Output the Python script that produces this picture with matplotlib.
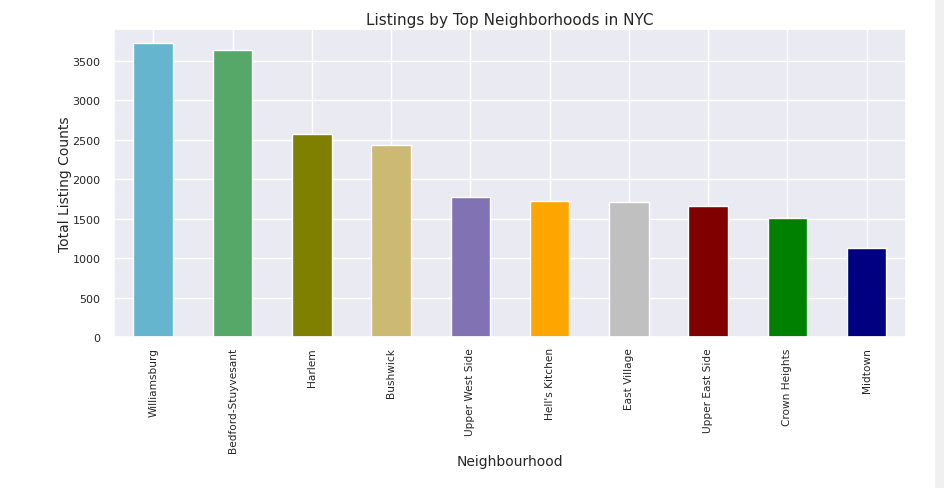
import matplotlib
matplotlib.use("Agg")
import matplotlib.pyplot as plt
import seaborn as sns
from matplotlib.patches import Rectangle

# Listing counts for the top neighbourhoods
neighbourhoods = [
    "Williamsburg", "Bedford-Stuyvesant", "Harlem", "Bushwick",
    "Upper West Side", "Hell's Kitchen", "East Village", "Upper East Side",
    "Crown Heights", "Midtown",
]
listing_counts = [3725, 3632, 2570, 2430, 1777, 1722, 1710, 1660, 1517, 1132]
bar_colors = ["c", "g", "olive", "y", "m", "orange", "silver", "maroon", "green", "navy"]

sns.set_theme(style="darkgrid", color_codes=True)
plt.rcParams["font.family"] = ["DejaVu Sans"]

fig = plt.figure(figsize=(9.44, 4.89), dpi=100)
ax = fig.add_axes([0.1204, 0.3078, 0.8396, 0.6302])

x = range(len(neighbourhoods))
ax.bar(x, listing_counts, width=0.5, color=bar_colors, edgecolor="white", linewidth=1)
ax.set_xlim(-0.5, len(neighbourhoods) - 0.5)
ax.set_ylim(0, 3900)
ax.set_xticks(list(x))
ax.set_xticklabels(neighbourhoods, rotation=90, fontsize=7.6)
ax.tick_params(axis="x", pad=1)
ax.tick_params(axis="y", labelsize=8)
ax.set_xlabel("Neighbourhood", fontsize=10, labelpad=1)
ax.set_ylabel("Total Listing Counts", fontsize=10, labelpad=0)
ax.set_title("Listings by Top Neighborhoods in NYC", fontsize=11, pad=4)

# notebook scrollbar strip on the right edge
fig.patches.append(Rectangle((935 / 944, 0), 9 / 944, 1, transform=fig.transFigure,
                             facecolor="#f0f0f0", edgecolor="none"))

fig.savefig("out.png", dpi=100)
